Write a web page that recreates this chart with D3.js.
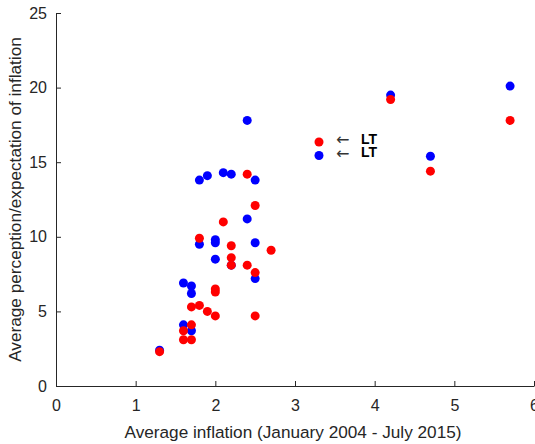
<!DOCTYPE html>
<html>
<head>
<meta charset="utf-8">
<script src="https://cdn.jsdelivr.net/npm/d3@7"></script>
<style>
  body { margin: 0; background: #fff; }
  svg { display: block; font-family: "Liberation Sans", Arial, sans-serif; }
</style>
</head>
<body>
<div id="chart"></div>
<script>
// perception (red) and expectation (blue) vs average inflation
const redX = [1.3, 1.6, 1.7, 1.6, 1.7, 1.7, 1.8, 1.9, 2.0, 2.5, 2.0, 2.0, 2.2, 2.2, 2.4, 2.5, 2.7, 2.2, 1.8, 2.1, 2.5, 2.4, 4.2, 5.7, 4.7];
const redY = [2.3, 3.1, 3.1, 3.7, 4.1, 5.3, 5.4, 5.0, 4.7, 4.7, 6.5, 6.3, 8.6, 8.1, 8.1, 7.6, 9.1, 9.4, 9.9, 11.0, 12.1, 14.2, 19.2, 17.8, 14.4];
const blueX = [1.3, 1.7, 1.6, 1.6, 1.7, 1.7, 2.0, 2.2, 2.5, 1.8, 2.0, 2.0, 2.5, 2.4, 1.8, 1.9, 2.1, 2.2, 2.5, 2.4, 4.2, 5.7, 4.7];
const blueY = [2.4, 3.7, 4.1, 6.9, 6.7, 6.2, 8.5, 8.1, 7.2, 9.5, 9.8, 9.6, 9.6, 11.2, 13.8, 14.1, 14.3, 14.2, 13.8, 17.8, 19.5, 20.1, 15.4];
const xTicks = [0, 1, 2, 3, 4, 5, 6];
const yTicks = [0, 5, 10, 15, 20, 25];
const legendLabels = ["LT", "LT"];

const width = 535;
const height = 444;
const margin = { top: 13, right: 1, bottom: 58, left: 56 };
const axisColor = "#262626";

const svg = d3.select("#chart").append("svg")
  .attr("width", width)
  .attr("height", height);

const x = d3.scaleLinear().domain([0, 6]).range([margin.left, width - margin.right]);
const y = d3.scaleLinear().domain([0, 25]).range([height - margin.bottom, margin.top]);

// axes, ticks pointing inward like matlab
const xAxis = svg.append("g")
  .attr("transform", `translate(0,${y(0)})`)
  .call(d3.axisBottom(x).tickValues(xTicks).tickFormat(d3.format("d"))
    .tickSizeInner(-5).tickSizeOuter(0).tickPadding(14));
const yAxis = svg.append("g")
  .attr("transform", `translate(${x(0)},0)`)
  .call(d3.axisLeft(y).tickValues(yTicks).tickFormat(d3.format("d"))
    .tickSizeInner(-5).tickSizeOuter(0).tickPadding(9));

for (const ax of [xAxis, yAxis]) {
  ax.select(".domain").attr("stroke", axisColor).attr("stroke-width", 1);
  ax.selectAll(".tick line").attr("stroke", axisColor);
  ax.selectAll(".tick text").attr("fill", axisColor).style("font-size", "16px");
}

svg.append("text")
  .attr("x", 293)
  .attr("y", 438)
  .attr("text-anchor", "middle")
  .attr("fill", axisColor)
  .style("font-size", "17.2px")
  .text("Average inflation (January 2004 - July 2015)");

svg.append("text")
  .attr("transform", `translate(21,${(y(0) + y(25)) / 2}) rotate(-90)`)
  .attr("text-anchor", "middle")
  .attr("fill", axisColor)
  .style("font-size", "17.2px")
  .text("Average perception/expectation of inflation");

const dots = svg.append("g");
dots.selectAll("circle.blue")
  .data(d3.zip(blueX, blueY))
  .join("circle")
  .attr("class", "blue")
  .attr("cx", (d) => x(d[0]))
  .attr("cy", (d) => y(d[1]))
  .attr("r", 4.5)
  .attr("fill", "#0000ff");
dots.selectAll("circle.red")
  .data(d3.zip(redX, redY))
  .join("circle")
  .attr("class", "red")
  .attr("cx", (d) => x(d[0]))
  .attr("cy", (d) => y(d[1]))
  .attr("r", 4.5)
  .attr("fill", "#ff0000");

// legend
const legend = svg.append("g").attr("transform", "translate(319,142)");
["#ff0000", "#0000ff"].forEach((c, i) => {
  const row = legend.append("g").attr("transform", `translate(0,${i * 13.5})`);
  row.append("circle").attr("r", 4.5).attr("fill", c);
  row.append("text")
    .attr("x", 17)
    .attr("y", 3)
    .attr("fill", "#333")
    .style("font-family", "DejaVu Sans")
    .style("font-size", "16px")
    .text("\u2190");
  row.append("text")
    .attr("x", 42)
    .attr("y", 1.5)
    .attr("fill", "#000")
    .style("font-size", "14px")
    .style("font-weight", "bold")
    .text(legendLabels[i]);
});
</script>
</body>
</html>
